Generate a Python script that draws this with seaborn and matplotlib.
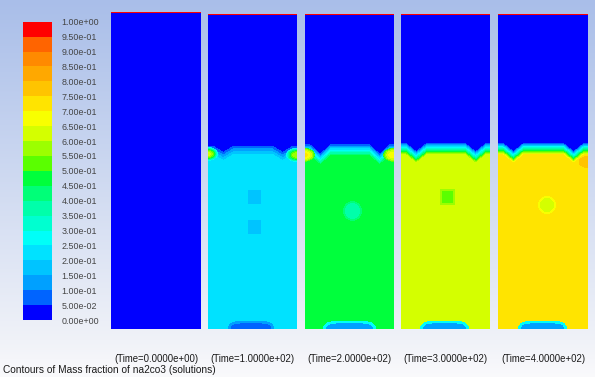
import numpy as np
import matplotlib
matplotlib.use("Agg")
import matplotlib.pyplot as plt
from matplotlib.colors import ListedColormap
import seaborn as sns

# contour levels (20 bands, 0 -> 1)
levels = np.round(np.linspace(0.0, 1.0, 21), 2)
level_labels = ["%.2e" % v for v in levels]

band_colors = ["#0000ff", "#0064ff", "#00a0ff", "#00c4ff", "#00e2ff",
               "#00fff8", "#00ffd0", "#00ffaa", "#00ff78", "#00ff3c",
               "#5aff00", "#9cff00", "#d4ff00", "#f8ff00", "#ffe400",
               "#ffc400", "#ffa800", "#ff8a00", "#ff6400", "#ff0000"]
cmap = ListedColormap(band_colors)

# snapshots
times = [0.0, 100.0, 200.0, 300.0, 400.0]
bulk_fraction = [0.0, 0.24, 0.48, 0.63, 0.73]          # liquid below the interface
interface_row = [None, 129, 129, 128, 128]             # rows from panel top where blue ends
dip_x = [0.17, 0.84]                                   # dips of the interface (fraction of width)
dip_depth = [0, 6, 9, 8, 8]

# small spots inside the liquid: (x cell, y cell)
spot_centres = [[], [(47, 184), (47, 214)], [(48, 198)], [(47, 184)], [(49, 192)]]
spot_fraction = [None, 0.18, 0.38, 0.52, 0.62]
spot_ring = [None, 0.18, 0.43, 0.58, 0.67]
spot_size = [0, 5, 8, 6, 7]
spot_square = [False, True, False, True, False]

# hot spots on the walls at the interface: (x cell, y cell, value)
wall_spots = [[], [(0, 140, 0.64), (89, 141, 0.60)],
              [(0, 141, 0.72), (89, 141, 0.70)], [], [(89, 148, 0.80)]]

# outlet bump at the bottom: (x from, x to, core value, ring value)
bottom_bump = [None, (20, 67, 0.06, 0.12), (18, 72, 0.12, 0.28),
               (19, 69, 0.12, 0.28), (20, 69, 0.12, 0.28)]

NX, NY = 90, 316


def build_field(k):
    yy, xx = np.mgrid[0:NY, 0:NX] + 0.5
    f = np.zeros((NY, NX))
    bulk = bulk_fraction[k]
    if bulk > 0:
        top = interface_row[k] + np.zeros_like(xx)
        for dx in dip_x:
            top += dip_depth[k] * np.clip(1 - np.abs(xx - dx * NX) / 10.0, 0, 1)
        f = bulk * np.clip((yy - top) / 13.0, 0, 1)
        for cx, cy, val in wall_spots[k]:
            d = np.sqrt(((xx - cx) / 10.0) ** 2 + ((yy - cy) / 7.0) ** 2)
            f = np.where(d < 1, np.maximum(f, bulk + (val - bulk) * (1 - d ** 2)), f)
        r = spot_size[k]
        for cx, cy in spot_centres[k]:
            if spot_square[k]:
                d = np.maximum(np.abs(xx - cx), np.abs(yy - cy))
            else:
                d = np.hypot(xx - cx, yy - cy)
            f = np.where(d < r + 2, spot_ring[k], f)
            f = np.where(d < r, spot_fraction[k], f)
        x0, x1, core, ring = bottom_bump[k]
        cx, hw = (x0 + x1) / 2, (x1 - x0) / 2
        d = np.sqrt(((xx - cx) / hw) ** 6 + ((NY - yy) / 8.0) ** 2)
        f = np.where(d < 1, ring, f)
        f = np.where(d < 0.7, core, f)
    f[0, :] = 1.0
    return f


fig = plt.figure(figsize=(5.95, 3.77), dpi=100)
W, H = 595.0, 377.0

# background gradient
bg = fig.add_axes([0, 0, 1, 1])
rows = np.arange(377)
grad = np.stack([np.interp(rows, [0, 340, 377], c) for c in
                 ([169, 240, 250], [190, 242, 250], [233, 248, 252])], axis=-1) / 255.0
bg.imshow(np.repeat(grad[:, None, :], 2, axis=1), aspect="auto", extent=[0, 1, 0, 1])
bg.axis("off")


def px_axes(x0, y0, x1, y1):
    ax = fig.add_axes([x0 / W, 1 - y1 / H, (x1 - x0) / W, (y1 - y0) / H])
    ax.set_facecolor("none")
    return ax


panel_boxes = [(111, 12, 201, 329), (208, 14, 297, 329), (305, 14, 394, 329),
               (401, 14, 490, 329), (498, 14, 588, 329)]

for k, box in enumerate(panel_boxes):
    ax = px_axes(*box)
    sns.heatmap(build_field(k), ax=ax, cmap=cmap, vmin=0, vmax=1, cbar=False,
                xticklabels=False, yticklabels=False)
    ax.set_xlabel("")
    ax.set_ylabel("")
    fig.text((box[0] + box[2]) / 2 / W, 1 - 359 / H, "(Time=%.4e)" % times[k],
             ha="center", va="center", fontsize=6.9, color="#1a1a1a",
             family="Liberation Sans")

# legend bar
cax = px_axes(23, 21.7, 52, 320)
centres = ((levels[:-1] + levels[1:]) / 2)[::-1]
sns.heatmap(centres[:, None], ax=cax, cmap=cmap, vmin=0, vmax=1, cbar=False,
            xticklabels=False, yticklabels=False)
cax.yaxis.tick_right()
cax.set_yticks(np.arange(21))
cax.set_yticklabels(level_labels[::-1], fontsize=6.4, color="#444444",
                    family="Liberation Sans")
cax.tick_params(axis="y", length=0, pad=7)

fig.text(3 / W, 1 - 370 / H, "Contours of Mass fraction of na2co3 (solutions)",
         ha="left", va="center", fontsize=7.3, color="#1a1a1a",
         family="Liberation Sans")

fig.savefig("out.png", dpi=100)
